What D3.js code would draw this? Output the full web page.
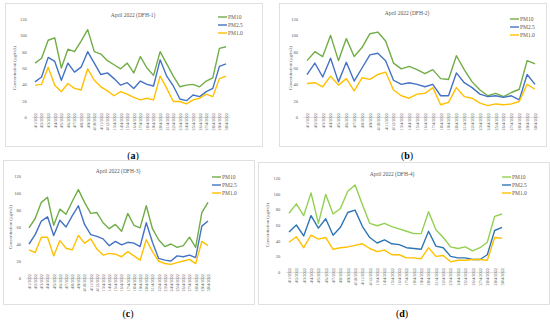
<!DOCTYPE html>
<html>
<head>
<meta charset="utf-8">
<script src="https://cdn.jsdelivr.net/npm/d3@7"></script>
<style>
  body { margin: 0; background: #fff; }
  text { font-family: "Liberation Serif", "DejaVu Serif", serif; }
</style>
</head>
<body>
<script>
const dates = ["4/1/2022", "4/2/2022", "4/3/2022", "4/4/2022", "4/5/2022", "4/6/2022", "4/7/2022", "4/8/2022",
  "4/9/2022", "4/10/2022", "4/11/2022", "4/12/2022", "13/4/2022", "14/4/2022", "15/4/2022", "16/4/2022",
  "17/4/2022", "18/4/2022", "19/4/2022", "20/4/2022", "21/4/2022", "22/4/2022", "23/4/2022", "24/4/2022",
  "25/4/2022", "26/4/2022", "27/4/2022", "28/4/2022", "29/4/2022", "30/4/2022"];
const yTicks = [0, 20, 40, 60, 80, 100, 120];
const seriesNames = ["PM10", "PM2.5", "PM1.0"];

// DFH-1
const pm10A = [66, 72, 94, 97, 60, 83, 80, 93, 107, 80, 77, 69, 64, 59, 66, 54, 74, 60, 51, 80, 65, 50, 37, 39, 40, 37, 44, 48, 84, 86];
const pm25A = [43, 49, 73, 68, 45, 66, 55, 61, 80, 66, 52, 54, 47, 39, 42, 35, 44, 40, 38, 70, 50, 38, 22, 20, 27, 25, 31, 35, 62, 65];
const pm1A  = [39, 40, 61, 39, 31, 41, 35, 33, 59, 45, 37, 32, 26, 31, 28, 24, 21, 23, 21, 50, 35, 19, 19, 16, 21, 23, 28, 25, 47, 50];
// DFH-2
const pm10B = [69, 80, 74, 100, 69, 96, 74, 85, 102, 104, 93, 66, 59, 62, 58, 53, 58, 47, 46, 75, 58, 43, 33, 26, 29, 25, 30, 34, 69, 65];
const pm25B = [52, 66, 49, 72, 43, 67, 44, 60, 76, 78, 69, 45, 40, 42, 40, 37, 40, 26, 26, 54, 42, 36, 28, 25, 26, 24, 26, 21, 52, 40];
const pm1B  = [41, 42, 37, 50, 39, 47, 32, 48, 46, 52, 55, 33, 26, 23, 28, 29, 36, 15, 18, 36, 25, 23, 17, 14, 16, 15, 16, 19, 40, 34];
// DFH-3
const pm10C = [59, 70, 89, 95, 62, 81, 75, 90, 104, 89, 76, 77, 65, 58, 63, 55, 76, 62, 59, 85, 58, 45, 37, 40, 36, 38, 48, 36, 77, 89];
const pm25C = [40, 51, 67, 72, 50, 68, 60, 73, 85, 63, 51, 49, 46, 38, 43, 39, 42, 41, 37, 65, 42, 23, 21, 20, 26, 25, 27, 24, 61, 67];
const pm1C  = [33, 30, 48, 48, 26, 44, 35, 33, 50, 41, 46, 34, 27, 29, 28, 25, 31, 26, 21, 45, 31, 20, 17, 16, 18, 20, 22, 17, 43, 38];
// DFH-4
const pm10D = [75, 87, 72, 101, 62, 99, 74, 81, 103, 111, 86, 62, 59, 62, 58, 55, 52, 49, 49, 77, 54, 44, 32, 30, 32, 27, 31, 38, 71, 74];
const pm25D = [51, 60, 46, 72, 56, 68, 47, 57, 76, 79, 58, 44, 37, 41, 36, 35, 31, 30, 29, 52, 33, 31, 20, 18, 18, 16, 16, 22, 53, 57];
const pm1D  = [38, 45, 31, 47, 42, 44, 29, 31, 32, 34, 36, 30, 26, 28, 22, 22, 18, 18, 17, 31, 20, 21, 13, 15, 15, 16, 16, 15, 44, 43];

const svg = d3.select("body").append("svg")
  .attr("width", 550)
  .attr("height", 323);

const panels = [
  { title: "April 2022 (DFH-1)", cap: "a", data: [pm10A, pm25A, pm1A], colors: ["#70AD47", "#4472C4", "#FFC000"],
    box: [5, 3, 257, 143], x0: 35, x1: 226, yTop: 19, yBot: 117, tx: 133, ty: 15, lx: 218, ly: 17, yt: 14, cx: 133, cy: 159 },
  { title: "April 2022 (DFH-2)", cap: "b", data: [pm10B, pm25B, pm1B], colors: ["#70AD47", "#4472C4", "#FFC000"],
    box: [279, 3, 267, 143], x0: 307, x1: 535, yTop: 19, yBot: 117, tx: 407, ty: 13, lx: 510, ly: 19, yt: 290, cx: 407, cy: 159 },
  { title: "April 2022 (DFH-3)", cap: "c", data: [pm10C, pm25C, pm1C], colors: ["#70AD47", "#4472C4", "#FFC000"],
    box: [3, 160, 251, 144], x0: 29, x1: 208, yTop: 176, yBot: 278, tx: 118, ty: 171, lx: 212, ly: 177, yt: 10, cx: 128, cy: 317 },
  { title: "April 2022 (DFH-4)", cap: "d", data: [pm10D, pm25D, pm1D], colors: ["#92D050", "#2E75B6", "#FFC000"],
    box: [258, 162, 291, 142], x0: 289, x1: 502, yTop: 178, yBot: 272, tx: 392, ty: 174, lx: 502, ly: 177, yt: 267, cx: 402, cy: 317 }
];

panels.forEach(p => {
  const g = svg.append("g");

  g.append("rect")
    .attr("x", p.box[0] + 0.5).attr("y", p.box[1] + 0.5)
    .attr("width", p.box[2]).attr("height", p.box[3])
    .attr("fill", "#fff")
    .attr("stroke", "#d9d9d9")
    .attr("stroke-width", 0.8);

  const step = (p.x1 - p.x0) / (dates.length - 1);
  const x = d3.scalePoint().domain(dates).range([p.x0 - step / 2, p.x1 + step / 2]).padding(0.5);
  const y = d3.scaleLinear().domain([0, 120]).range([p.yBot, p.yTop]);

  // y labels
  const ya = g.append("g")
    .attr("transform", `translate(${p.x0 - step / 2 - 3},0)`)
    .call(d3.axisLeft(y).tickValues(yTicks).tickSize(0).tickPadding(2));
  ya.select(".domain").remove();
  ya.selectAll("text").attr("font-size", 4.5).attr("fill", "#595959")
    .style("font-family", "'Liberation Serif', serif");

  // x axis
  const xa = g.append("g")
    .attr("transform", `translate(0,${p.yBot})`)
    .call(d3.axisBottom(x).tickSize(0).tickSizeOuter(0));
  xa.select(".domain").attr("stroke", "#d9d9d9").attr("stroke-width", 0.8);
  xa.selectAll("text")
    .attr("font-size", 4.3).attr("fill", "#595959")
    .style("font-family", "'Liberation Serif', serif")
    .attr("text-anchor", "end")
    .attr("dy", "0.32em")
    .attr("transform", "translate(0,-7) rotate(-90)")
    .attr("x", -3).attr("y", 0);

  // y title
  g.append("text")
    .attr("transform", `translate(${p.yt},${(p.yTop + p.yBot) / 2}) rotate(-90)`)
    .attr("text-anchor", "middle")
    .attr("dy", "0.35em")
    .attr("font-size", 4.8)
    .attr("fill", "#595959")
    .text("Concentration (μg/m3)");

  // chart title
  g.append("text")
    .attr("x", p.tx).attr("y", p.ty)
    .attr("text-anchor", "middle")
    .attr("dy", "0.35em")
    .attr("font-size", 5.5)
    .attr("fill", "#595959")
    .text(p.title);

  const line = d3.line().x((d, i) => x(dates[i])).y(d => y(d));
  p.data.forEach((vals, k) => {
    g.append("path")
      .datum(vals)
      .attr("d", line)
      .attr("fill", "none")
      .attr("stroke", p.colors[k])
      .attr("stroke-width", 1.4)
      .attr("stroke-linejoin", "round");
  });

  // legend
  seriesNames.forEach((name, k) => {
    const yy = p.ly + k * 8;
    g.append("line")
      .attr("x1", p.lx).attr("x2", p.lx + 9)
      .attr("y1", yy).attr("y2", yy)
      .attr("stroke", p.colors[k])
      .attr("stroke-width", 1.4);
    g.append("text")
      .attr("x", p.lx + 10).attr("y", yy)
      .attr("dy", "0.35em")
      .attr("font-size", 5.5)
      .attr("fill", "#595959")
      .text(name);
  });

  // caption
  const cap = svg.append("text")
    .attr("x", p.cx).attr("y", p.cy)
    .attr("text-anchor", "middle")
    .attr("font-size", 10)
    .attr("fill", "#000");
  cap.append("tspan").text("(");
  cap.append("tspan").attr("font-weight", "bold").text(p.cap);
  cap.append("tspan").text(")");
});
</script>
</body>
</html>
